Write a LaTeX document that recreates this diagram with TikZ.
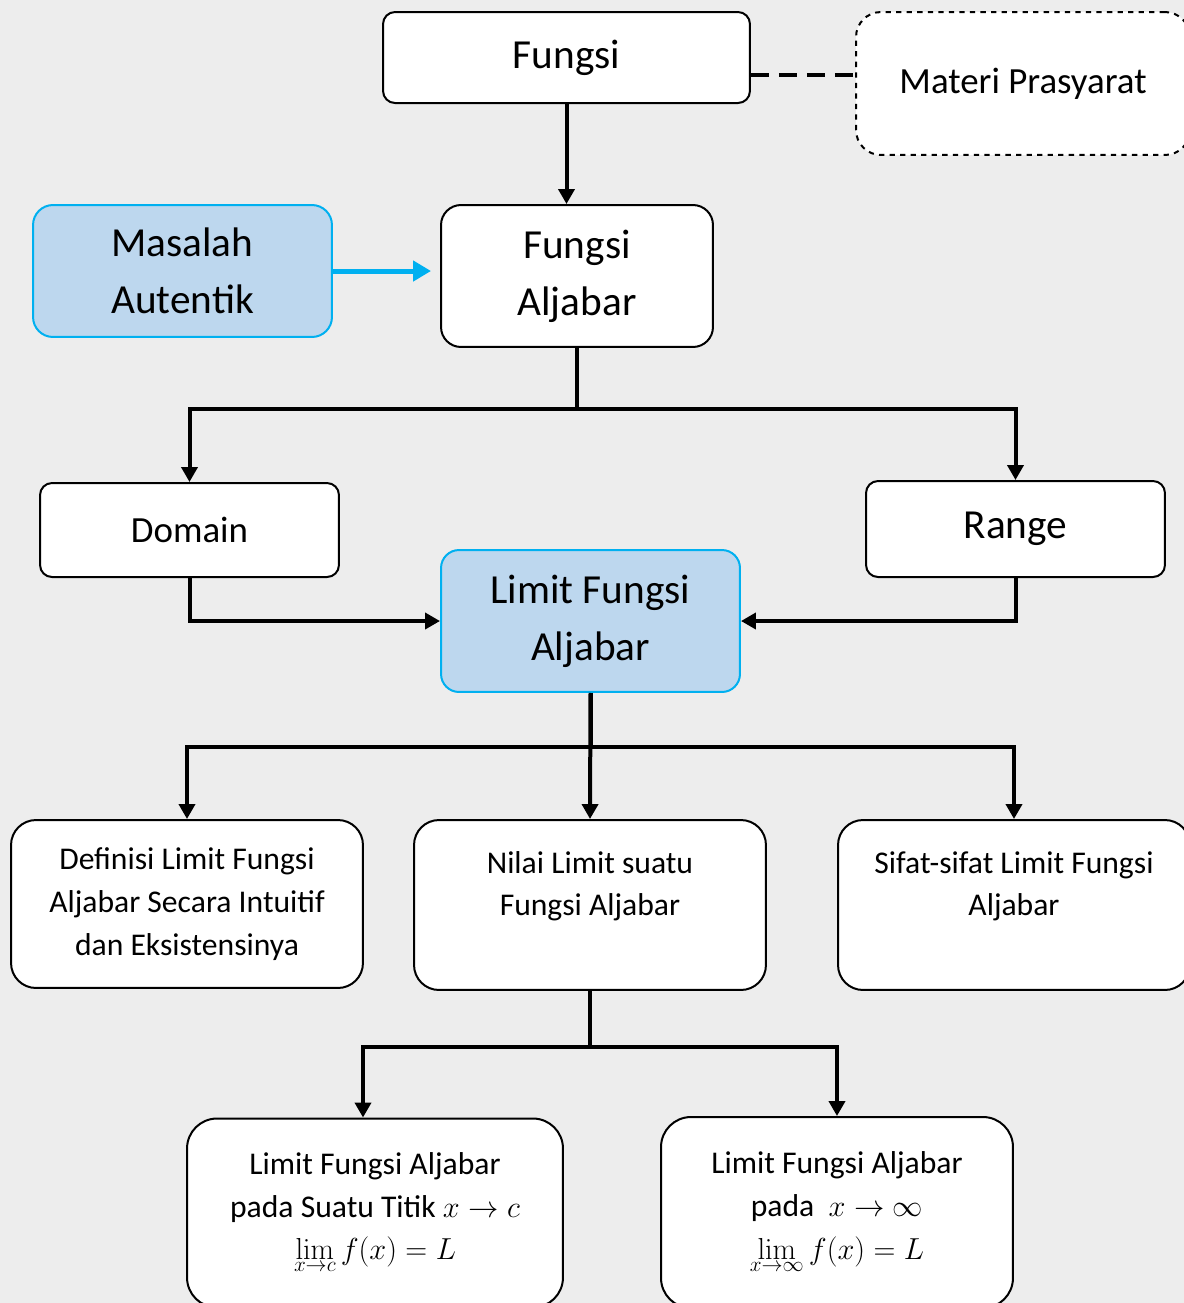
\documentclass[tikz,border=0pt]{standalone}
\usepackage[no-math]{fontspec}
\setmainfont{Carlito}
\usetikzlibrary{arrows.meta}
\definecolor{bggray}{RGB}{237,237,237}
\definecolor{lightblue}{RGB}{189,215,238}
\definecolor{cyanline}{RGB}{0,176,240}
\begin{document}
\begin{tikzpicture}[
    x=0.02cm, y=-0.02cm,
    box/.style={rectangle, draw=black, line width=0.04cm, fill=white, rounded corners=0.3cm, align=center, inner sep=0pt},
    bluebox/.style={box, draw=cyanline, fill=lightblue},
    big/.style={font=\fontsize{23.5}{32.5}\selectfont},
    mid/.style={font=\fontsize{21}{28}\selectfont},
    small/.style={font=\fontsize{18}{24.4}\selectfont},
    arr/.style={line width=0.08cm, -{Triangle[width=0.32cm,length=0.3cm]}},
    bluearr/.style={draw=cyanline, line width=0.1cm, -{Triangle[width=0.4cm,length=0.36cm]}},
    link/.style={line width=0.08cm, dash pattern=on 0.36cm off 0.2cm}
  ]
    \useasboundingbox (0,0) rectangle (1184,1303);
    \fill[bggray] (0,0) rectangle (1184,1303);
    \clip (0,0) rectangle (1184,1303);

    \node[box, big, minimum width=7.34cm, minimum height=1.82cm, rounded corners=0.24cm] (fungsi) at (566.5,57.5) {Fungsi};
    \node[box, mid, dashed, minimum width=6.68cm, minimum height=2.86cm, rounded corners=0.5cm] (prasyarat) at (1023,83.5) {Materi Prasyarat};
    \node[bluebox, big, minimum width=5.98cm, minimum height=2.64cm, rounded corners=0.4cm] (masalah) at (182.5,271) {Masalah\\Autentik};
    \node[box, big, minimum width=5.44cm, minimum height=2.84cm, rounded corners=0.4cm] (aljabar) at (577,276) {Fungsi\\Aljabar};
    \node[box, mid, minimum width=5.98cm, minimum height=1.88cm, rounded corners=0.24cm] (domain) at (189.5,530) {Domain};
    \node[box, big, minimum width=5.98cm, minimum height=1.92cm, rounded corners=0.24cm] (range) at (1015.5,529) {Range};
    \node[bluebox, big, minimum width=5.98cm, minimum height=2.84cm, rounded corners=0.36cm] (limit) at (590.5,621) {Limit Fungsi\\Aljabar};

    \node[box, small, minimum width=7.04cm, minimum height=3.36cm, rounded corners=0.5cm] (definisi) at (187,904) {Definisi Limit Fungsi\\Aljabar Secara Intuitif\\dan Eksistensinya};
    \node[box, small, minimum width=7.04cm, minimum height=3.4cm, rounded corners=0.5cm] (nilai) at (590,905) {Nilai Limit suatu\\Fungsi Aljabar\\\mbox{}};
    \node[box, small, minimum width=7.04cm, minimum height=3.4cm, rounded corners=0.5cm] (sifat) at (1014,905) {Sifat-sifat Limit Fungsi\\Aljabar\\\mbox{}};

    \node[box, small, minimum width=7.52cm, minimum height=3.78cm, rounded corners=0.6cm] (titik) at (375,1213) {Limit Fungsi Aljabar\\pada Suatu Titik $x\to c$\\$\lim\limits_{x\to c} f(x)=L$};
    \node[box, small, minimum width=7.04cm, minimum height=3.82cm, rounded corners=0.6cm] (takhingga) at (837,1212.5) {Limit Fungsi Aljabar\\pada~ $x\to\infty$\\$\lim\limits_{x\to\infty} f(x)=L$};

    \coordinate (split1) at (574,409);
    \coordinate (split2) at (590,747);
    \coordinate (split3) at (592,1047);

    \draw[link] ([yshift=-0.35cm]fungsi.east) -- ([yshift=-0.35cm]fungsi.east -| prasyarat.west);
    \draw[arr] (fungsi.south) -- (fungsi.south |- aljabar.north);
    \draw[bluearr, shorten >=0.18cm] (masalah.east) -- (masalah.east -| aljabar.west);

    \draw[arr] (aljabar.south) -- (aljabar.south |- split1) -| (domain.north);
    \draw[arr] (aljabar.south) -- (aljabar.south |- split1) -| (range.north);
    \draw[arr] (domain.south) |- (limit.west);
    \draw[arr] (range.south) |- (limit.east);

    \draw[arr] (limit.south) -- (nilai.north);
    \draw[arr] (limit.south) -- (limit.south |- split2) -| (definisi.north);
    \draw[arr] (limit.south) -- (limit.south |- split2) -| (sifat.north);

    \draw[arr] (nilai.south) -- (nilai.south |- split3) -| ([xshift=-0.24cm]titik.north);
    \draw[arr] (nilai.south) -- (nilai.south |- split3) -| (takhingga.north);
\end{tikzpicture}
\end{document}
